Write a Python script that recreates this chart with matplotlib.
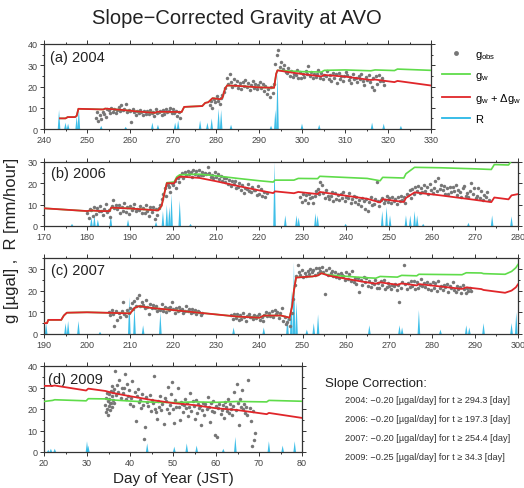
import matplotlib.pyplot as plt
from matplotlib.lines import Line2D
import numpy as np

plt.rcParams['font.family'] = ['Liberation Sans', 'DejaVu Sans']
plt.rcParams['mathtext.fontset'] = 'custom'
plt.rcParams['mathtext.rm'] = 'Liberation Sans'
plt.rcParams['mathtext.it'] = 'Liberation Sans'
plt.rcParams['mathtext.default'] = 'regular'

RED = '#e0262a'
GREEN = '#5fdc4a'
BLUE = '#2ab8e6'
GRAY = '#767676'
INK = '#333333'

# ---- g_w (green) vertices, slope correction -> g_w + dg_w (red)
gw_a_day = [243.7, 245.0, 245.5, 247.2, 247.6, 248.0, 253.8, 254.2, 258, 262, 265.8, 266.3, 272.0, 272.6,
            276.8, 277.5, 278.2, 279.2, 281.0, 281.5, 282.1, 282.6, 285, 290, 293.5, 294.0, 294.3, 296,
            300, 304.5, 305.2, 310, 316, 317, 320, 321.5, 322.2, 330]
gw_a_val = [5.0, 5.0, 5.6, 5.6, 6.2, 9.5, 9.2, 9.6, 9.0, 8.2, 7.6, 8.1, 8.0, 10.4,
            10.8, 12.3, 12.6, 14.5, 14.0, 14.7, 19.0, 20.5, 20.3, 19.6, 19.4, 26.0, 27.6, 27.4,
            27.0, 26.8, 27.6, 27.8, 27.4, 27.8, 27.6, 27.5, 28.2, 27.6]
gw_b_day = [170, 180, 181, 183, 185.2, 185.6, 190, 196.5, 197.3, 198, 198.5, 200.2, 200.8, 201.5, 206,
            210, 215, 220, 223.2, 223.6, 228, 229, 233.5, 234, 245, 248, 248.6, 253.5, 254, 256, 262,
            270, 273.8, 274.5, 277.8, 278.5, 280]
gw_b_val = [8.3, 7.0, 7.3, 7.0, 7.0, 8.6, 8.2, 7.3, 9.5, 16.0, 20.3, 20.6, 23.0, 24.0, 24.3,
            23.5, 22.3, 21.2, 20.6, 21.5, 21.5, 22.3, 22.2, 23.3, 22.3, 21.2, 22.8, 22.5, 24.5, 27.5, 27.3,
            26.8, 26.5, 28.8, 28.6, 30.6, 31.5]
gw_c_day = [190, 190.7, 191, 194, 194.6, 195.3, 200, 210, 211, 212, 215, 220, 225, 230, 235, 240, 241,
            245, 247, 247.6, 248, 248.5, 252.3, 253.6, 254.4, 256, 260, 264, 267, 268, 272, 273,
            276.5, 277, 287, 288, 291.5, 292, 297, 298.5, 299.5, 300]
gw_c_val = [5.0, 5.0, 6.5, 6.5, 8.5, 9.8, 10.0, 9.5, 12.0, 12.8, 12.0, 11.0, 10.0, 9.0, 8.0, 7.5, 8.5,
            8.5, 7.5, 13.0, 20.0, 26.0, 26.5, 27.0, 28.0, 27.2, 26.6, 26.0, 25.7, 26.5, 26.2, 27.0,
            26.8, 27.5, 27.3, 28.2, 28.1, 27.8, 27.5, 28.8, 30.5, 32.0]
gw_d_day = [20, 22, 22.5, 29.8, 30.3, 34.3, 36, 40, 45, 50, 55, 60, 65, 71.8, 72.3, 80]
gw_d_val = [23.5, 24.0, 24.3, 23.8, 24.8, 24.7, 24.2, 23.7, 23.2, 23.0, 23.3, 23.1, 23.5, 23.3, 24.0, 23.6]

# slope [ugal/day], correction applied from, zero point of correction
slope_a = (-0.20, 294.3, 294.3)
slope_b = (-0.20, 197.3, 197.3)
slope_c = (-0.20, 254.4, 254.4)
slope_d = (-0.25, 0.0, 49.0)

# ---- g_obs, sampled every dt day from a start day
obs_a1_start, obs_a1_dt = 252.0, 1 / 3
obs_a1 = [5.2, 7.9, 3.8, 6.5, 4.6, 8.1, 7.0, 5.8, 9.2, 8.8, 7.4, 9.9, 8.2, 9.5, 7.6, 9.1, 10.3, 8.4,
          11.5, 8.9, 9.6, 12.0, 7.8, 9.0, 8.4, 3.4, 9.3, 8.0, 6.6, 8.7, 7.3, 9.0, 8.1, 6.5, 8.3, 7.2,
          8.5, 7.0, 9.1, 7.4, 8.2, 6.3, 9.2, 7.6, 8.0, 8.3, 6.4, 9.0, 7.1, 9.3, 8.2, 8.6, 10.1, 7.3,
          9.4, 7.5, 8.3, 6.2, 8.0, 5.4]
obs_a2_start, obs_a2_dt = 278.5, 1 / 3
obs_a2 = [11.2, 13.0, 10.1, 14.2, 12.5, 15.3, 13.1, 11.8, 14.6, 15.8, 17.2, 19.5, 24.0, 21.3, 25.8,
          22.1, 19.6, 23.4, 20.5, 22.8, 19.2, 21.7, 18.9, 22.3, 20.2, 23.1, 19.7, 21.5, 18.4, 20.9,
          22.4, 19.1, 21.0, 18.7, 20.6, 22.0, 19.3, 21.4, 17.8, 20.1, 16.5, 18.9, 15.2, 19.6, 17.0,
          21.0, 30.5, 34.8, 37.0, 29.4, 31.6, 28.2, 30.1, 27.0, 26.3, 28.8, 25.1, 27.4, 24.6, 26.0,
          25.5, 27.9, 24.2, 26.8, 23.9, 25.7, 24.5, 27.2, 25.9, 29.5, 25.0, 26.6, 23.8, 26.1, 24.7,
          25.8, 28.0, 24.1, 26.4, 23.5, 25.2, 24.9, 27.1, 23.3, 25.6, 22.8, 26.2, 24.0, 25.9, 21.6,
          26.5, 23.7, 25.1, 22.4, 24.8, 26.9, 25.3, 23.0, 24.4, 21.5, 25.7, 23.6, 24.2, 22.1, 25.0,
          23.4, 26.0, 22.7, 20.8, 24.5, 23.1, 25.4, 22.0, 19.6, 23.8, 18.2, 24.9, 21.3, 25.6, 22.6,
          24.0, 22.8, 20.9]
obs_b1_start, obs_b1_dt = 180.0, 1 / 3
obs_b1 = [6.1, 3.8, 8.2, 7.4, 4.9, 9.0, 5.6, 8.3, 6.8, 9.5, 7.0, 5.2, 8.1, 10.2, 6.5, 7.7, 4.0, 9.3,
          12.1, 8.6, 10.0, 7.9, 9.8, 6.3, 9.1, 7.2, 10.6, 6.7, 8.9, 5.5, 9.6, 7.5, 8.3, 10.4, 6.9, 8.0,
          7.3, 9.2, 5.9, 8.5, 6.2, 9.7, 7.0, 4.8, 8.8, 6.4, 9.0, 3.5, 7.8, 5.0, 8.6, 9.8, 12.5, 15.0,
          17.6, 13.9, 19.0, 18.2, 16.0, 20.1, 19.4, 21.3, 18.0, 22.5, 20.4, 23.6, 24.9, 22.6, 25.5,
          23.8, 26.0, 24.4, 25.1, 23.2, 26.4, 24.6, 25.9, 23.5, 26.2, 24.0, 25.3, 23.9, 25.0, 24.3,
          27.8, 24.8, 23.0, 24.1, 22.7, 25.2, 22.9, 24.3, 21.8, 23.3, 21.1, 22.4, 20.6, 22.7, 19.9,
          21.5, 18.8, 20.9, 19.6, 21.0, 17.9, 18.4, 20.2, 16.9, 19.1, 15.3, 18.0, 17.2, 19.5, 16.4,
          15.9, 18.3, 17.0, 16.8, 14.6, 18.9, 15.2, 17.5, 14.0, 16.1, 13.8, 15.7]
obs_b2_start, obs_b2_dt = 229.5, 1 / 3
obs_b2 = [13.5, 11.2, 15.0, 12.3, 14.6, 10.8, 15.2, 12.9, 13.8, 11.0, 14.1, 16.3, 17.4, 14.8, 20.5,
          19.0, 15.6, 13.2, 16.7, 14.0, 12.5, 13.9, 16.1, 11.8, 15.5, 12.7, 14.4, 12.0, 14.9, 13.1,
          16.0, 11.5, 13.7, 13.0, 15.3, 10.9, 12.6, 14.2, 11.4, 13.8, 10.5, 12.2, 9.6, 13.3, 11.7,
          8.0, 12.5, 7.2, 11.1, 13.6, 9.8, 10.2, 12.8, 20.6, 11.6, 9.3, 12.4, 13.0, 10.6, 12.1,
          14.0, 11.3, 12.9, 10.7, 13.4, 11.9, 12.8, 10.1, 13.7, 11.5, 14.2, 12.3, 13.5, 10.9, 15.1,
          14.6, 16.9, 13.3, 17.5, 15.0, 18.2, 16.4, 18.8, 15.4, 17.8, 15.9, 19.3, 16.2, 18.5, 14.8,
          19.7, 17.1, 15.6, 18.0, 21.0, 16.6, 22.7, 17.3, 19.0, 16.9, 18.7, 15.2, 17.6, 14.9, 18.4,
          15.8, 18.1, 16.3, 19.2, 14.5, 17.0, 16.0, 13.7, 17.9, 18.6, 14.2, 15.5, 13.4, 16.5, 20.3,
          15.0, 17.7, 12.9, 14.1, 18.0, 13.0, 16.2, 12.4, 14.7, 13.6, 15.9, 12.0]
obs_c1_start, obs_c1_dt = 205.0, 1 / 3
obs_c1 = [10.0, 8.6, 11.2, 9.3, 3.8, 10.7, 6.5, 9.8, 8.0, 10.6, 14.9, 9.1, 8.4, 11.0, 9.7, 12.2, 14.1,
          11.6, 15.3, 13.0, 16.8, 17.9, 12.7, 14.6, 13.5, 11.8, 15.8, 12.4, 9.0, 13.6, 11.9, 13.2,
          12.1, 12.9, 10.8, 11.5, 11.2, 13.7, 10.5, 12.3, 10.1, 11.8, 10.9, 12.6, 14.8, 11.4, 9.7,
          12.0, 10.6, 12.4, 11.1, 11.7, 9.9, 10.8, 12.8, 10.4, 11.3, 9.8, 11.5, 10.2, 11.0, 9.4,
          10.7, 10.3, 8.8, 9.9]
obs_c2_start, obs_c2_dt = 233.5, 1 / 3
obs_c2 = [8.6, 6.9, 9.2, 7.4, 9.0, 6.5, 8.8, 7.1, 9.5, 7.9, 6.2, 8.4, 9.1, 7.6, 8.0, 6.8, 8.7, 7.3,
          8.1, 9.4, 6.6, 7.7, 5.9, 8.9, 10.0, 8.3, 9.6, 8.5, 10.4, 7.8, 11.2, 9.0, 10.1, 7.2, 9.8,
          11.8, 6.1, 8.0, 4.7, 5.4, 7.0, 3.9]
obs_c3_start, obs_c3_dt = 247.5, 1 / 3
obs_c3 = [9.5, 16.0, 22.4, 26.8, 32.0, 28.5, 27.0, 29.6, 26.1, 28.3, 26.9, 29.1, 27.7, 30.0, 28.6,
          29.3, 27.4, 30.6, 28.0, 30.4, 29.0, 31.0, 28.7, 18.2, 29.5, 27.2, 30.3, 27.9, 29.0, 26.6,
          28.4, 26.2, 27.6, 25.8, 28.1, 27.0, 26.7, 24.9, 28.7, 25.3, 27.8, 24.4, 28.9, 24.1, 26.0,
          23.2, 25.7, 19.3, 24.8, 22.6, 26.3, 23.9, 25.6, 22.1, 24.5, 21.8, 23.6, 22.9, 25.0, 21.3,
          23.7, 21.0, 24.2, 22.4, 24.9, 20.6, 21.5, 23.3, 22.0, 20.8, 22.7, 21.9, 23.0, 20.2, 22.5,
          14.8, 21.4, 24.0, 31.8, 22.8, 20.9, 23.5, 21.7, 24.6, 22.1, 24.3, 20.5, 23.8, 21.2, 22.7,
          25.5, 22.0, 23.4, 21.6, 23.9, 20.7, 22.9, 20.1, 24.1, 21.3, 23.4, 19.8, 24.6, 21.0, 22.3,
          20.4, 22.6, 21.7, 23.2, 19.5, 21.9, 21.0, 23.8, 20.2, 19.3, 22.0, 20.8, 21.8, 19.0, 22.6,
          20.5, 18.7, 21.4, 19.6, 21.2, 20.0]
obs_d1_start, obs_d1_dt = 34.3, 0.1
obs_d1 = [22.0, 18.5, 25.3, 20.1, 27.4, 23.6, 17.2, 24.8, 21.5, 26.9, 19.4, 23.0, 28.6, 22.7, 25.9,
          20.8, 30.5, 24.2, 27.8, 22.9]
obs_d2_start, obs_d2_dt = 36.3, 0.25
obs_d2 = [29.5, 37.8, 26.4, 31.2, 28.1, 33.6, 25.2, 30.0, 27.3, 29.9, 36.5, 24.6, 31.4, 26.0, 28.8,
          22.3, 24.9, 33.0, 21.5, 27.7, 14.6, 26.2, 29.4, 23.1, 24.4, 20.6, 27.0, 22.0, 6.2, 11.5,
          25.5, 23.3, 21.4, 26.6, 19.0, 24.0, 22.6, 35.5, 20.2, 18.6, 15.2, 23.9, 21.1, 26.1, 19.5,
          22.3, 13.0, 25.0, 23.5, 20.0, 30.2, 18.1, 21.7, 26.8, 32.6, 19.8, 13.6, 24.3, 21.0, 29.8,
          20.7, 14.8, 23.2, 22.1, 18.4, 21.9, 24.6, 20.3, 22.8, 16.9, 20.9, 27.5, 19.2, 23.5, 21.4,
          15.4, 24.2, 18.0, 22.5, 20.6, 21.2, 12.6, 19.7, 23.0, 17.3, 22.4, 20.1, 25.8, 20.8, 14.0,
          22.9, 19.0, 23.7, 18.6, 8.0, 21.5, 6.8, 20.4, 22.2, 17.9, 19.4, 21.8, 16.0, 23.4, 21.0,
          19.1, 24.8, 18.2, 22.5, 20.0, 17.4, 21.6, 27.9, 19.6, 31.5, 22.8, 12.4, 24.5, 20.7, 29.0,
          19.9, 22.2, 18.3, 21.1, 17.0, 33.5, 20.5, 14.5, 3.0, 19.3, 5.5, 8.9]

# ---- rainfall peaks [mm/hour]
rain_a_day = [243.5, 245.0, 245.6, 247.6, 248.1, 253.3, 259.0, 265.2, 266.5, 270.5, 271.2, 276.3, 278.0,
              279.0, 280.6, 281.2, 283.5, 292.8, 293.8, 294.3, 300.0, 304.0, 316.3, 319.0, 323.0]
rain_a_mm = [9, 3, 2.5, 6, 10, 1.5, 1, 3, 2, 3, 4, 4, 3, 5, 9.5, 9, 2, 1.5, 9, 27, 2.5, 2, 3, 2.5, 1.5]
rain_b_day = [176.5, 181.0, 181.7, 182.5, 185.5, 189.5, 196.0, 197.6, 198.5, 199.1, 199.6, 201.5, 204.0,
              223.5, 226.0, 228.6, 229.1, 233.0, 233.5, 240.0, 248.5, 249.5, 250.3, 254.0, 255.0,
              256.0, 256.6, 258.0, 268.5, 274.0, 278.5]
rain_b_mm = [1, 4, 5, 3, 5, 3, 2, 7, 10, 9, 15, 12, 1, 30, 5, 5, 4, 6, 5, 1, 7, 9, 5, 5, 5, 7, 5, 1,
             1.5, 5, 4.5]
rain_c_day = [190.5, 195.0, 195.6, 198.0, 203.0, 209.8, 211.0, 213.0, 217.0, 234.0, 241.0, 246.5,
              247.4, 248.0, 248.6, 251.0, 252.6, 253.6, 265.5, 272.5, 273.1, 277.0, 282.0, 288.0,
              288.7, 292.0, 298.5, 299.6]
rain_c_mm = [5, 5, 6, 6, 1, 17, 13, 4, 10, 3, 3, 8, 20, 33, 15, 2, 5, 9, 4, 4, 3, 11, 2, 4, 3, 5, 5, 10]
rain_d_day = [21.0, 21.6, 22.5, 30.0, 30.3, 44.0, 50.3, 53.2, 55.5, 61.7, 64.5, 72.3, 75.5, 78.3]
rain_d_mm = [1, 1.5, 1.5, 5, 3, 4, 2.5, 4, 3, 1.5, 7, 5, 3, 5]

fig = plt.figure(figsize=(5.24, 4.89), dpi=100)
W, H = 524, 489


def box(x0, y0, x1, y1):
    return [x0 / W, 1 - y1 / H, (x1 - x0) / W, (y1 - y0) / H]


panels = [
    ('(a) 2004', box(44, 45, 431, 130), (240, 330), (0, 40), gw_a_day, gw_a_val, slope_a,
     [(obs_a1_start, obs_a1_dt, obs_a1), (obs_a2_start, obs_a2_dt, obs_a2)], rain_a_day, rain_a_mm),
    ('(b) 2006', box(44, 163, 518, 227), (170, 280), (0, 30), gw_b_day, gw_b_val, slope_b,
     [(obs_b1_start, obs_b1_dt, obs_b1), (obs_b2_start, obs_b2_dt, obs_b2)], rain_b_day, rain_b_mm),
    ('(c) 2007', box(44, 259, 518, 335), (190, 300), (0, 35), gw_c_day, gw_c_val, slope_c,
     [(obs_c1_start, obs_c1_dt, obs_c1), (obs_c2_start, obs_c2_dt, obs_c2),
      (obs_c3_start, obs_c3_dt, obs_c3)], rain_c_day, rain_c_mm),
    ('(d) 2009', box(44, 367, 302, 453), (20, 80), (0, 40), gw_d_day, gw_d_val, slope_d,
     [(obs_d1_start, obs_d1_dt, obs_d1), (obs_d2_start, obs_d2_dt, obs_d2)], rain_d_day, rain_d_mm),
]

axes = []
for label, rect, xl, yl, gday, gval, slp, obs, rday, rmm in panels:
    ax = fig.add_axes(rect)
    axes.append(ax)
    # rainfall as narrow peaks
    for d, mm in zip(rday, rmm):
        ax.fill([d - 0.3, d, d + 0.3], [0, mm, 0], color=BLUE, lw=0, alpha=0.9, zorder=1)
    for t0, dt, vals in obs:
        t = t0 + dt * np.arange(len(vals))
        ax.plot(t, vals, ls='none', marker='o', ms=2.5, mew=0, color=GRAY, zorder=2)
    d = np.array(gday)
    v = np.array(gval)
    s, t_from, t_zero = slp
    red = v + s * (np.maximum(d, t_from) - t_zero)
    ax.plot(d, v, color=GREEN, lw=1.2, zorder=3)
    ax.plot(d, red, color=RED, lw=1.3, zorder=4)
    ax.set_xlim(xl)
    ax.set_ylim(yl)
    ax.set_xticks(np.arange(xl[0], xl[1] + 1, 10))
    ax.set_xticks(np.arange(xl[0], xl[1] + 1, 5), minor=True)
    ax.set_yticks(np.arange(0, yl[1] + 1, 10))
    ax.set_yticks(np.arange(0, yl[1] + 1, 5), minor=True)
    ax.tick_params(which='both', direction='out', top=True, right=True, colors=INK,
                   labelsize=6.5, labelcolor='#444444', width=0.7, pad=1.5)
    ax.tick_params(which='major', length=3)
    ax.tick_params(which='minor', length=1.5)
    for sp in ax.spines.values():
        sp.set_color(INK)
        sp.set_linewidth(0.9)
    ax.text(0.015, 0.93, label, transform=ax.transAxes, fontsize=10.5, va='top', ha='left', color='#222222')

axes[3].set_xlabel('Day of Year (JST)', fontsize=11, labelpad=3, color='#222222')

fig.text(237 / W, 1 - 18 / H, 'Slope\u2212Corrected Gravity at AVO', fontsize=14.5, ha='center',
         va='center', color='#222222')
fig.text(12 / W, 1 - 240 / H, 'g [\u00b5gal] ,  R [mm/hour]', fontsize=12, rotation=90, ha='center',
         va='center', color='#222222')

handles = [Line2D([], [], ls='none', marker='o', ms=3.5, mew=0, color=GRAY),
           Line2D([], [], color=GREEN, lw=1.3),
           Line2D([], [], color=RED, lw=1.3),
           Line2D([], [], color=BLUE, lw=1.3)]
fig.legend(handles, ['g$_{obs}$', 'g$_w$', 'g$_w$ + \u0394g$_w$', 'R'], loc='upper left',
           bbox_to_anchor=(442 / W, 1 - 50 / H), frameon=False, fontsize=8, handlelength=2.5,
           labelspacing=0.8, handletextpad=0.45, borderaxespad=0, borderpad=0)

fig.text(325 / W, 1 - 384 / H, 'Slope Correction:', fontsize=9.5, va='center', color='#222222')
slope_lines = ['2004: \u22120.20 [\u00b5gal/day] for t \u2265 294.3 [day]',
               '2006: \u22120.20 [\u00b5gal/day] for t \u2265 197.3 [day]',
               '2007: \u22120.20 [\u00b5gal/day] for t \u2265 254.4 [day]',
               '2009: \u22120.25 [\u00b5gal/day] for t \u2265 34.3 [day]']
for i, s in enumerate(slope_lines):
    fig.text(345 / W, 1 - (401 + 18.7 * i) / H, s, fontsize=6.6, va='center', color='#333333')

plt.savefig('out.png', dpi=100)
